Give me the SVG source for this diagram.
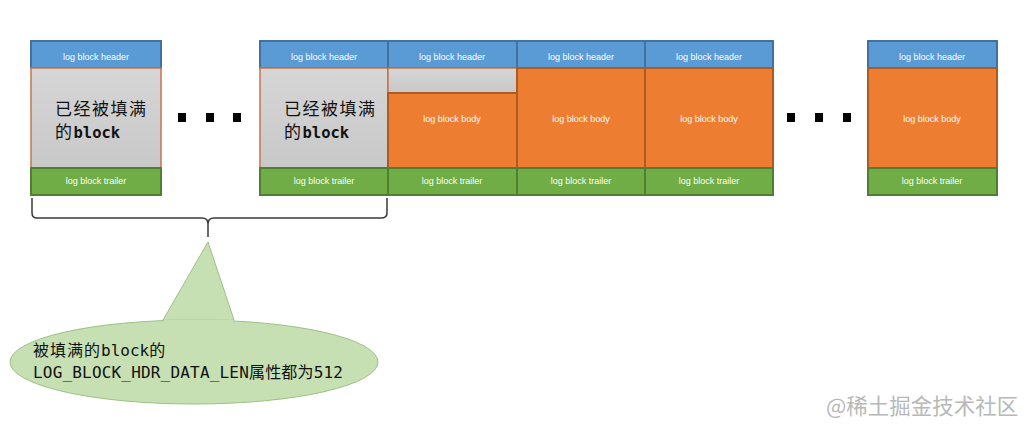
<svg xmlns="http://www.w3.org/2000/svg" width="1030" height="429" viewBox="0 0 1030 429">
<style>
.hdr{fill:#5b9bd5;stroke:#41719c;stroke-width:2}
.bdy{fill:#ed7d31;stroke:#ae5a21;stroke-width:2}
.trl{fill:#70ad47;stroke:#507e32;stroke-width:2}
.gry{fill:url(#g);stroke:#c8734a;stroke-width:1.5}
.lbl{font-family:"Liberation Sans",Arial,sans-serif;font-size:9px;fill:#ffffff;text-anchor:middle}
.cjk{font-family:"DejaVu Sans Mono","Noto Sans CJK SC",monospace;fill:#111111}
.dot{fill:#000}
</style>
<defs>
<linearGradient id="g" x1="0" y1="0" x2="0" y2="1">
<stop offset="0" stop-color="#d6d6d6"/>
<stop offset="1" stop-color="#c8c8c8"/>
</linearGradient>
</defs>
<rect width="1030" height="429" fill="#ffffff"/>

<g id="block-a">
<rect class="hdr" x="31" y="41" width="130" height="27"/>
<rect class="gry" x="31" y="68" width="130" height="100"/>
<rect class="trl" x="31" y="168" width="130" height="27"/>
<text class="lbl" x="96" y="60">log block header</text>
<text class="lbl" x="96" y="184">log block trailer</text>
<text class="cjk" x="55" y="115" font-size="17" letter-spacing="1.5">已经被填满</text>
<text class="cjk" x="55" y="138" font-size="17"><tspan letter-spacing="1.5">的</tspan><tspan font-size="15.5" font-weight="bold">block</tspan></text>
</g>

<g id="dots-left">
<rect class="dot" x="178" y="113" width="8" height="9"/>
<rect class="dot" x="206" y="113" width="8" height="9"/>
<rect class="dot" x="233" y="113" width="8" height="9"/>
</g>

<g id="block-b">
<rect class="hdr" x="260" y="41" width="128" height="27"/>
<rect class="gry" x="260" y="68" width="128" height="100"/>
<rect class="trl" x="260" y="168" width="128" height="27"/>
<text class="lbl" x="324" y="60">log block header</text>
<text class="lbl" x="324" y="184">log block trailer</text>
<text class="cjk" x="284" y="115" font-size="17" letter-spacing="1.5">已经被填满</text>
<text class="cjk" x="284" y="138" font-size="17"><tspan letter-spacing="1.5">的</tspan><tspan font-size="15.5" font-weight="bold">block</tspan></text>
</g>

<g id="block-c">
<rect class="hdr" x="388" y="41" width="129" height="27"/>
<rect class="gry" x="388" y="68" width="129" height="25" stroke="none"/>
<rect class="bdy" x="388" y="93" width="129" height="75"/>
<rect class="trl" x="388" y="168" width="129" height="27"/>
<text class="lbl" x="452" y="60">log block header</text>
<text class="lbl" x="452" y="122">log block body</text>
<text class="lbl" x="452" y="184">log block trailer</text>
</g>

<g id="block-d">
<rect class="hdr" x="517" y="41" width="128" height="27"/>
<rect class="bdy" x="517" y="68" width="128" height="100"/>
<rect class="trl" x="517" y="168" width="128" height="27"/>
<text class="lbl" x="581" y="60">log block header</text>
<text class="lbl" x="581" y="122">log block body</text>
<text class="lbl" x="581" y="184">log block trailer</text>
</g>

<g id="block-e">
<rect class="hdr" x="645" y="41" width="128" height="27"/>
<rect class="bdy" x="645" y="68" width="128" height="100"/>
<rect class="trl" x="645" y="168" width="128" height="27"/>
<text class="lbl" x="709" y="60">log block header</text>
<text class="lbl" x="709" y="122">log block body</text>
<text class="lbl" x="709" y="184">log block trailer</text>
</g>

<g id="dots-right">
<rect class="dot" x="787" y="113" width="8" height="9"/>
<rect class="dot" x="815" y="113" width="8" height="9"/>
<rect class="dot" x="843" y="113" width="8" height="9"/>
</g>

<g id="block-f">
<rect class="hdr" x="868" y="41" width="129" height="27"/>
<rect class="bdy" x="868" y="68" width="129" height="100"/>
<rect class="trl" x="868" y="168" width="129" height="27"/>
<text class="lbl" x="932" y="60">log block header</text>
<text class="lbl" x="932" y="122">log block body</text>
<text class="lbl" x="932" y="184">log block trailer</text>
</g>

<g id="connectors">
<path d="M32,198 V213 Q32,218 37,218 H202 Q208,218 208,224 V237 M208,224 Q208,218 214,218 H381 Q387,218 387,213 V198" fill="none" stroke="#3a3a3a" stroke-width="1.5"/>
</g>

<g id="callout">
<path d="M163,320 L208,242 L234,320 Z" fill="#c6dfb3" stroke="#9cc283" stroke-width="1"/>
<ellipse cx="194" cy="362" rx="184" ry="42" fill="#c6dfb3" stroke="#9cc283" stroke-width="1"/>
<path d="M164,321 L233,321" stroke="#c6dfb3" stroke-width="3"/>
<text class="cjk" x="33" y="356" font-size="16"><tspan letter-spacing="1">被填满的</tspan><tspan>block</tspan><tspan>的</tspan></text>
<text class="cjk" x="33" y="378" font-size="16" textLength="310"><tspan>LOG_BLOCK_HDR_DATA_LEN</tspan><tspan>属性都为</tspan><tspan>512</tspan></text>
</g>

<text x="826" y="414" font-family="'Noto Sans CJK SC',sans-serif" font-size="21.5" fill="#b8b8b8">@稀土掘金技术社区</text>
</svg>
